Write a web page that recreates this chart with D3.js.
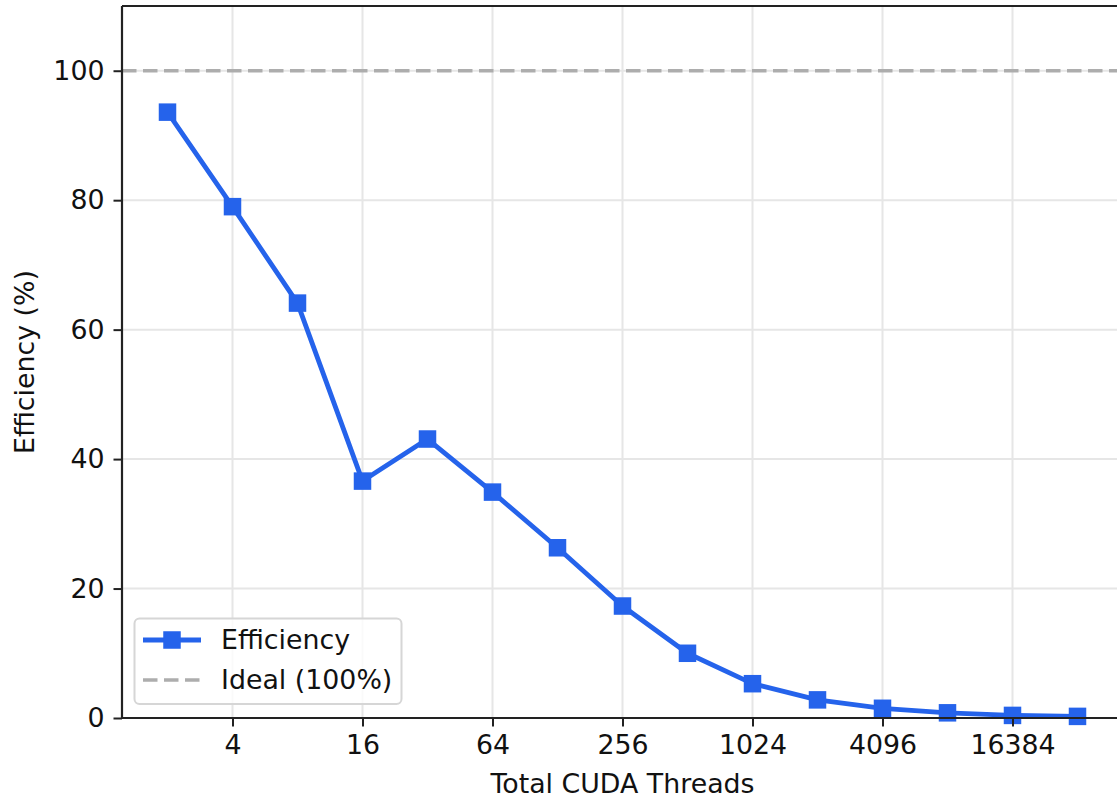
<!DOCTYPE html>
<html>
<head>
<meta charset="utf-8">
<script src="https://cdn.jsdelivr.net/npm/d3@7"></script>
<style>
  html, body { margin: 0; padding: 0; background: #fff; }
  svg { display: block; font-family: "DejaVu Sans", sans-serif; }
</style>
</head>
<body>
<svg id="chart" width="1117" height="799"></svg>
<script>
// Total CUDA threads (powers of two) and measured parallel efficiency
const threads = [2, 4, 8, 16, 32, 64, 128, 256, 512, 1024, 2048, 4096, 8192, 16384, 32768];
const efficiency = [93.6, 79.0, 64.1, 36.6, 43.1, 34.9, 26.3, 17.3, 10.0, 5.3, 2.8, 1.5, 0.8, 0.4, 0.25];
const idealValue = 100;
const xTicks = [4, 16, 64, 256, 1024, 4096, 16384];
const yTicks = [0, 20, 40, 60, 80, 100];
const seriesNames = ["Efficiency", "Ideal (100%)"];

const svg = d3.select("#chart");
const plot = { left: 122, right: 1123, top: 6, bottom: 718 };

const blue = "#2563eb";
const idealColor = "#adadad";
const gridColor = "#e6e6e6";
const spineColor = "#222";
const fontSize = 26.8;

// log2 axis with a 5% margin in log space on both sides
const lo = Math.log2(d3.min(threads)), hi = Math.log2(d3.max(threads));
const pad = (hi - lo) * 0.05;
const x = d3.scaleLog().base(2)
  .domain([Math.pow(2, lo - pad), Math.pow(2, hi + pad)])
  .range([plot.left, plot.right]);
const y = d3.scaleLinear().domain([0, 110]).range([plot.bottom, plot.top]);

const defs = svg.append("defs");
defs.append("clipPath").attr("id", "plotClip")
  .append("rect")
  .attr("x", plot.left).attr("y", plot.top)
  .attr("width", plot.right - plot.left).attr("height", plot.bottom - plot.top);

// grid
const grid = svg.append("g").attr("clip-path", "url(#plotClip)");
grid.selectAll("line.gx").data(xTicks).join("line")
  .attr("x1", d => x(d)).attr("x2", d => x(d))
  .attr("y1", plot.top).attr("y2", plot.bottom)
  .attr("stroke", gridColor).attr("stroke-width", 2);
grid.selectAll("line.gy").data(yTicks).join("line")
  .attr("x1", plot.left).attr("x2", plot.right)
  .attr("y1", d => y(d)).attr("y2", d => y(d))
  .attr("stroke", gridColor).attr("stroke-width", 2);

// ideal reference line
const content = svg.append("g").attr("clip-path", "url(#plotClip)");
content.append("line")
  .attr("x1", plot.left).attr("x2", plot.right)
  .attr("y1", y(idealValue)).attr("y2", y(idealValue))
  .attr("stroke", idealColor).attr("stroke-width", 3.5)
  .attr("stroke-dasharray", "14.5,6.5");

// efficiency line with square markers
const line = d3.line().x((d, i) => x(threads[i])).y(d => y(d));
svg.append("path")
  .datum(efficiency)
  .attr("d", line)
  .attr("fill", "none")
  .attr("stroke", blue).attr("stroke-width", 4.8)
  .attr("stroke-linejoin", "round");
const ms = 17.5;
svg.selectAll("rect.marker").data(efficiency).join("rect")
  .attr("class", "marker")
  .attr("x", (d, i) => x(threads[i]) - ms / 2)
  .attr("y", d => y(d) - ms / 2)
  .attr("width", ms).attr("height", ms)
  .attr("fill", blue);

// axes
const xAxis = d3.axisBottom(x).tickValues(xTicks).tickFormat(d3.format("d"))
  .tickSize(8.5).tickPadding(8);
const yAxis = d3.axisLeft(y).tickValues(yTicks).tickFormat(d3.format("d"))
  .tickSize(8.5).tickPadding(9);

const gx = svg.append("g").attr("transform", `translate(0,${plot.bottom})`).call(xAxis);
const gy = svg.append("g").attr("transform", `translate(${plot.left},0)`).call(yAxis);
[gx, gy].forEach(g => {
  g.select(".domain").remove();
  g.selectAll(".tick line").attr("stroke", spineColor).attr("stroke-width", 2);
  g.selectAll(".tick text").attr("fill", "#111").style("font-size", fontSize + "px")
    .style("font-family", "DejaVu Sans, sans-serif");
});

// spines
const spines = svg.append("g").attr("stroke", spineColor).attr("stroke-width", 2.2);
spines.append("line").attr("x1", plot.left).attr("x2", plot.left).attr("y1", plot.top).attr("y2", plot.bottom);
spines.append("line").attr("x1", plot.left).attr("x2", plot.right).attr("y1", plot.bottom).attr("y2", plot.bottom);
spines.append("line").attr("x1", plot.left).attr("x2", plot.right).attr("y1", plot.top).attr("y2", plot.top);
spines.append("line").attr("x1", plot.right).attr("x2", plot.right).attr("y1", plot.top).attr("y2", plot.bottom);

// axis titles
svg.append("text")
  .attr("x", (plot.left + plot.right) / 2).attr("y", 793)
  .attr("text-anchor", "middle").attr("fill", "#111")
  .style("font-size", fontSize + "px")
  .text("Total CUDA Threads");
svg.append("text")
  .attr("transform", `translate(34,${(plot.top + plot.bottom) / 2}) rotate(-90)`)
  .attr("text-anchor", "middle").attr("fill", "#111")
  .style("font-size", fontSize + "px")
  .text("Efficiency (%)");

// legend
const lg = svg.append("g");
lg.append("rect")
  .attr("x", 134.5).attr("y", 618.5).attr("width", 267).attr("height", 85.5)
  .attr("rx", 5).attr("fill", "rgba(255,255,255,0.8)")
  .attr("stroke", "#d6d6d6").attr("stroke-width", 2);
lg.append("line").attr("x1", 143).attr("x2", 201).attr("y1", 640).attr("y2", 640)
  .attr("stroke", blue).attr("stroke-width", 4.8);
lg.append("rect").attr("x", 172 - ms / 2).attr("y", 640 - ms / 2).attr("width", ms).attr("height", ms)
  .attr("fill", blue);
lg.append("line").attr("x1", 143).attr("x2", 201).attr("y1", 680).attr("y2", 680)
  .attr("stroke", idealColor).attr("stroke-width", 3.5).attr("stroke-dasharray", "14.5,6.5");
lg.selectAll("text.lab").data(seriesNames).join("text")
  .attr("x", 221).attr("y", (d, i) => 649 + i * 40)
  .attr("fill", "#111").style("font-size", fontSize + "px")
  .text(d => d);
</script>
</body>
</html>
